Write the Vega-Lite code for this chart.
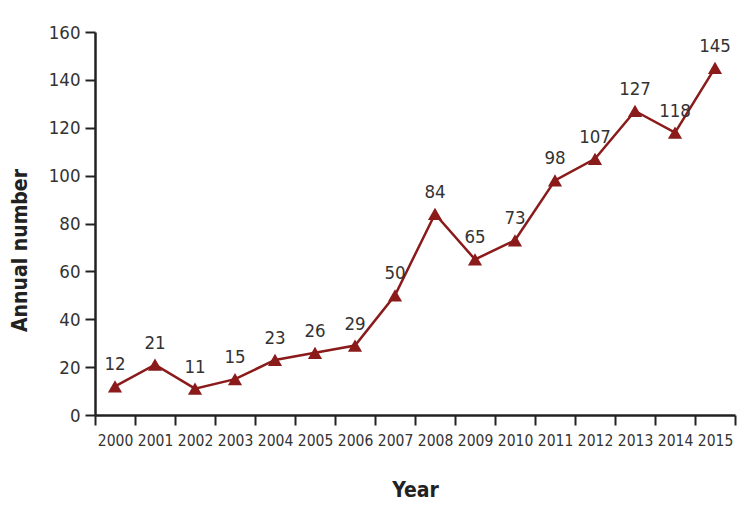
{
  "$schema": "https://vega.github.io/schema/vega-lite/v6.json",
  "width": 640,
  "height": 383,
  "autosize": "none",
  "padding": {"left": 95, "top": 32, "right": 18, "bottom": 95},
  "background": "white",
  "config": {
    "view": {"stroke": null},
    "font": "Liberation Sans Narrow, DejaVu Sans Condensed, Open Sans, sans-serif"
  },
  "data": {
    "values": [
      {"year": 2000, "n": 12}, {"year": 2001, "n": 21}, {"year": 2002, "n": 11},
      {"year": 2003, "n": 15}, {"year": 2004, "n": 23}, {"year": 2005, "n": 26},
      {"year": 2006, "n": 29}, {"year": 2007, "n": 50}, {"year": 2008, "n": 84},
      {"year": 2009, "n": 65}, {"year": 2010, "n": 73}, {"year": 2011, "n": 98},
      {"year": 2012, "n": 107}, {"year": 2013, "n": 127}, {"year": 2014, "n": 118},
      {"year": 2015, "n": 145}
    ]
  },
  "encoding": {
    "x": {
      "field": "year", "type": "quantitative",
      "scale": {"domain": [1999.5, 2015.5], "nice": false, "zero": false},
      "axis": {
        "title": "Year",
        "titleFontSize": 21, "titleFontWeight": "bold", "titleColor": "#222",
        "titleBaseline": "middle", "titleY": 75,
        "values": [1999.5, 2000.5, 2001.5, 2002.5, 2003.5, 2004.5, 2005.5, 2006.5, 2007.5, 2008.5, 2009.5, 2010.5, 2011.5, 2012.5, 2013.5, 2014.5, 2015.5],
        "labelExpr": "datum.value < 2015 ? toString(datum.value + 0.5) : ''",
        "labelOffset": 20,
        "labelFontSize": 15.5, "labelColor": "#333", "labelPadding": 8,
        "labelFlush": false, "labelOverlap": false,
        "tickSize": 10, "tickWidth": 2, "tickColor": "#222",
        "domainColor": "#222", "domainWidth": 2.5,
        "grid": false
      }
    },
    "y": {
      "field": "n", "type": "quantitative",
      "scale": {"domain": [0, 160], "nice": false},
      "axis": {
        "title": "Annual number",
        "titleFontSize": 21, "titleFontWeight": "bold", "titleColor": "#222",
        "titleX": -75, "titleY": 218, "titleAngle": -90, "titleBaseline": "middle", "titleAlign": "center",
        "values": [0, 20, 40, 60, 80, 100, 120, 140, 160],
        "labelFontSize": 18.5, "labelColor": "#333", "labelPadding": 5,
        "tickSize": 10, "tickWidth": 2, "tickColor": "#222",
        "domainColor": "#222", "domainWidth": 2.5,
        "grid": false
      }
    }
  },
  "layer": [
    {"mark": {"type": "line", "color": "#8B1A1A", "strokeWidth": 2.5}},
    {"mark": {"type": "point", "shape": "triangle-up", "filled": true, "color": "#8B1A1A", "size": 200, "opacity": 1}},
    {"mark": {"type": "text", "dy": -22, "fontSize": 18.5, "color": "#333"}, "encoding": {"text": {"field": "n"}}}
  ]
}
